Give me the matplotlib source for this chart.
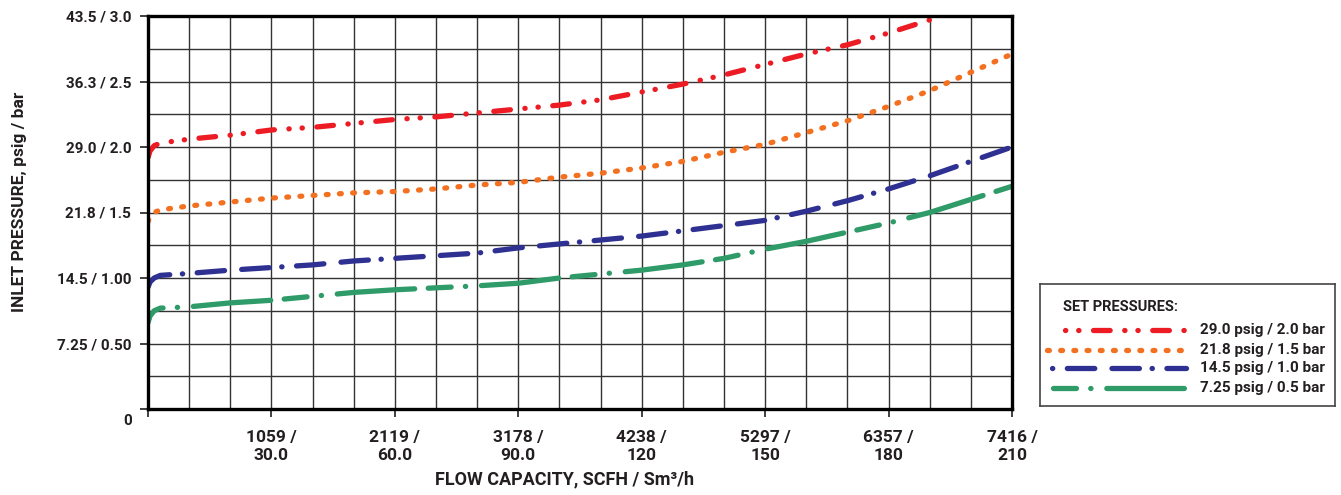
import numpy as np
import matplotlib.pyplot as plt

# flow in Sm3/h, inlet pressure in bar
flow = [0, 0.5, 1.5, 3, 10, 20, 30, 40, 50, 60, 70, 80, 90, 100, 110, 120,
        130, 140, 150, 160, 170, 180, 190, 200, 210]

p_29 = [1.92, 1.97, 2.01, 2.03, 2.06, 2.09, 2.13, 2.15, 2.18, 2.21, 2.23, 2.26,
        2.29, 2.32, 2.36, 2.42, 2.48, 2.55, 2.63, 2.71, 2.78, 2.87, 2.97]
p_218 = [1.43, 1.47, 1.50, 1.52, 1.55, 1.58, 1.61, 1.63, 1.65, 1.66, 1.68, 1.71,
         1.73, 1.77, 1.80, 1.84, 1.89, 1.96, 2.02, 2.11, 2.20, 2.31, 2.43, 2.57, 2.71]
p_145 = [0.93, 0.97, 1.00, 1.02, 1.035, 1.06, 1.08, 1.10, 1.13, 1.15, 1.17, 1.19,
         1.23, 1.26, 1.29, 1.32, 1.36, 1.40, 1.44, 1.51, 1.59, 1.68, 1.78, 1.89, 2.00]
p_725 = [0.66, 0.71, 0.75, 0.77, 0.78, 0.81, 0.83, 0.86, 0.89, 0.91, 0.925, 0.94,
         0.96, 1.00, 1.03, 1.06, 1.10, 1.15, 1.22, 1.28, 1.35, 1.42, 1.50, 1.60, 1.70]

series_labels = ["29.0 psig / 2.0 bar", "21.8 psig / 1.5 bar",
                 "14.5 psig / 1.0 bar", "7.25 psig / 0.5 bar"]

x_ticks = [0, 30, 60, 90, 120, 150, 180, 210]
x_ticklabels = ["", "1059 /\n30.0", "2119 /\n60.0", "3178 /\n90.0", "4238 /\n120",
                "5297 /\n150", "6357 /\n180", "7416 /\n210"]
y_ticks = [0, 0.5, 1.0, 1.5, 2.0, 2.5, 3.0]
y_ticklabels = ["", "7.25 / 0.50", "14.5 / 1.00", "21.8 / 1.5", "29.0 / 2.0",
                "36.3 / 2.5", "43.5 / 3.0"]

colors = ["#ED1C24", "#F37021", "#2E3192", "#2E9B68"]
# dash patterns in line-width units
styles = [(0, (3.15, 2.76, 0.05, 2.45, 0.05, 2.76)),
          (0, (0.35, 2.15)),
          (8.46, (5.2, 3.26, 5.2, 2.4, 0.05, 2.76)),
          (17.27, (14.7, 2.57, 4.35, 2.7, 0.05, 3.0))]

narrow = ["Liberation Sans Narrow", "Roboto", "DejaVu Sans"]
plain = ["Roboto", "DejaVu Sans"]

W, H = 1341, 495
fig = plt.figure(figsize=(W / 100, H / 100), dpi=100)
ax = fig.add_axes([148 / W, (H - 409) / H, (1012 - 148) / W, (409 - 16) / H])

ax.set_xlim(0, 210)
ax.set_ylim(0, 3.0)

# grid every 10 Sm3/h and 0.25 bar
for gx in np.arange(10, 210, 10):
    ax.axvline(gx, color="#333333", lw=1.0, zorder=1)
for gy in np.arange(0.25, 3.0, 0.25):
    ax.axhline(gy, color="#333333", lw=1.0, zorder=1)

ys = [p_29, p_218, p_145, p_725]
for y, c, ls in zip(ys, colors, styles):
    ax.plot(flow[:len(y)], y, color=c, lw=3.8, linestyle=ls,
            dash_capstyle="round", solid_capstyle="round", zorder=3)

for s in ax.spines.values():
    s.set_linewidth(2.4)
    s.set_color("black")
    s.set_zorder(4)

ax.set_xticks(x_ticks)
ax.set_xticklabels(x_ticklabels, family=narrow, fontweight="bold", fontsize=12.5,
                   color="#231F20", linespacing=1.25)
ax.set_yticks(y_ticks)
ax.set_yticklabels(y_ticklabels, family=plain, fontweight="bold", fontsize=11,
                   color="#231F20")
ax.tick_params(axis="x", length=6, width=1.2, pad=9, color="#231F20")
ax.tick_params(axis="y", length=6, width=1.2, pad=6, color="#231F20")

fig.text(128 / W, 1 - 421 / H, "0", ha="center", va="center", family=plain,
         fontweight="bold", fontsize=11, color="#231F20")
fig.text(20 / W, 1 - 202 / H, "INLET PRESSURE, psig / bar", rotation=90,
         ha="center", va="center", family=plain, fontweight="bold", fontsize=12.5,
         color="#231F20")
fig.text(565 / W, 1 - 479 / H, "FLOW CAPACITY, SCFH / Sm³/h", ha="center",
         va="center", family=narrow, fontweight="bold", fontsize=13,
         color="#231F20")

# legend box
lx0, ly0, lx1, ly1 = 1040, 284, 1335, 406
lax = fig.add_axes([lx0 / W, (H - ly1) / H, (lx1 - lx0) / W, (ly1 - ly0) / H])
lax.set_xlim(0, lx1 - lx0)
lax.set_ylim(ly1 - ly0, 0)
lax.set_xticks([])
lax.set_yticks([])
for s in lax.spines.values():
    s.set_linewidth(1.2)
    s.set_color("#444444")
lax.text(23, 23, "SET PRESSURES:", ha="left", va="center", family=plain,
         fontweight="bold", fontsize=10.5, color="#231F20")
leg_rows = [46, 66, 84, 104]
leg_start = [25, 7, 12, 13]
leg_styles = [(0, (0.05, 2.45, 0.05, 2.76, 3.15, 2.76)),
              (0, (0.35, 2.15)),
              (0, (0.05, 2.76, 5.2, 3.26, 5.2, 2.4)),
              (0, (4.35, 2.7, 0.05, 3.0, 14.7, 2.57))]
for lab, c, ls, yr, xs in zip(series_labels, colors, leg_styles, leg_rows, leg_start):
    lax.plot([xs, 146], [yr, yr], color=c, lw=3.8, linestyle=ls,
             dash_capstyle="round", solid_capstyle="round")
    lax.text(160, yr, lab, ha="left", va="center", family=plain,
             fontweight="bold", fontsize=11, color="#231F20")

fig.savefig("out.png", dpi=100)
